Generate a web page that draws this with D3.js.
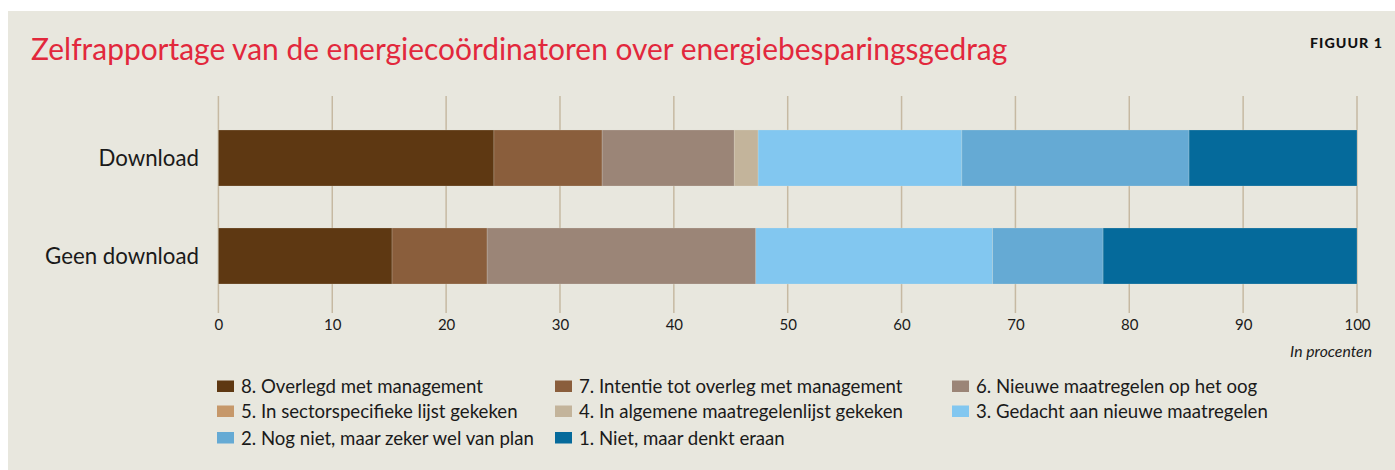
<!DOCTYPE html>
<html>
<head>
<meta charset="utf-8">
<script src="https://cdn.jsdelivr.net/npm/d3@7/dist/d3.min.js"></script>
<style>
  html, body { margin: 0; padding: 0; background: #ffffff; }
  svg { display: block; }
  text { font-family: Lato, "Open Sans", sans-serif; }
</style>
</head>
<body>
<svg id="chart" width="1395" height="470"></svg>
<script>
// ---------- data ----------
const categories = ["Download", "Geen download"];
const seriesNames = [
  "8. Overlegd met management",
  "7. Intentie tot overleg met management",
  "6. Nieuwe maatregelen op het oog",
  "5. In sectorspecifieke lijst gekeken",
  "4. In algemene maatregelenlijst gekeken",
  "3. Gedacht aan nieuwe maatregelen",
  "2. Nog niet, maar zeker wel van plan",
  "1. Niet, maar denkt eraan"
];
const seriesColors = ["#5e3812", "#8a5e3c", "#9b8577", "#c6986a", "#c3b49b", "#82c7f0", "#65aad4", "#056a9b"];
const downloadValues = [24.2, 9.5, 11.6, 0, 2.1, 17.9, 19.95, 14.75];
const geenDownloadValues = [15.25, 8.35, 23.6, 0, 0, 20.8, 9.7, 22.3];
const tickValues = [0, 10, 20, 30, 40, 50, 60, 70, 80, 90, 100];
const titleText = "Zelfrapportage van de energiecoördinatoren over energiebesparingsgedrag";
const figureLabel = "FIGUUR 1";
const unitLabel = "In procenten";

// ---------- layout ----------
const svg = d3.select("#chart");
const bg = "#e8e7de";
const gridColor = "#c6b9a2";

svg.append("rect").attr("x", 8).attr("y", 11).attr("width", 1395 - 8).attr("height", 470 - 11).attr("fill", bg);

function fitWidth(sel, target) {
  const w = sel.node().getComputedTextLength();
  const fs = parseFloat(sel.attr("font-size"));
  sel.attr("font-size", fs * target / w);
  return fs * target / w;
}

// title
const title = svg.append("text")
  .attr("x", 31).attr("y", 60)
  .attr("font-size", 28).attr("fill", "#e2283c")
  .text(titleText);
fitWidth(title, 977);

const fig = svg.append("text")
  .attr("x", 1383).attr("y", 48)
  .attr("text-anchor", "end")
  .attr("font-size", 14).attr("font-weight", 900)
  .attr("letter-spacing", 1)
  .attr("fill", "#111")
  .text(figureLabel);
fig.attr("textLength", 73).attr("lengthAdjust", "spacingAndGlyphs");

// scales
const x = d3.scaleLinear().domain([0, 100]).range([218.4, 1357]);
const y = d3.scaleBand().domain(categories).range([109, 305]).paddingInner(0.42857).paddingOuter(0.2143);

// gridlines
const grid = svg.append("g");
grid.selectAll("line").data(tickValues).join("line")
  .attr("x1", d => x(d)).attr("x2", d => x(d))
  .attr("y1", 96).attr("y2", 313)
  .attr("stroke", gridColor).attr("stroke-width", 1.5);

// stacked data
const rows = categories.map((c, i) => {
  const vals = i === 0 ? downloadValues : geenDownloadValues;
  const o = { category: c };
  seriesNames.forEach((s, j) => o[s] = vals[j]);
  return o;
});
const stack = d3.stack().keys(seriesNames)(rows);

const bars = svg.append("g");
bars.selectAll("g").data(stack).join("g")
  .attr("fill", (d, i) => seriesColors[i])
  .selectAll("rect").data(d => d.filter(p => p[1] - p[0] > 0)).join("rect")
  .attr("x", d => x(d[0]))
  .attr("width", d => x(d[1]) - x(d[0]))
  .attr("y", d => y(d.data.category))
  .attr("height", y.bandwidth())
  .attr("stroke", "#e8e7de").attr("stroke-opacity", 0.35).attr("stroke-width", 0.6);

// category labels
const catG = svg.append("g");
const catLabels = catG.selectAll("text").data(categories).join("text")
  .attr("x", 199)
  .attr("y", d => y(d) + y.bandwidth() / 2)
  .attr("dy", "0.35em")
  .attr("text-anchor", "end")
  .attr("font-size", 21).attr("fill", "#1a1a1a")
  .text(d => d);
const catFs = fitWidth(d3.select(catLabels.nodes()[1]), 154);
catLabels.attr("font-size", catFs);

// x axis (tick labels only)
const axis = d3.axisBottom(x).tickValues(tickValues).tickSize(0).tickPadding(0).tickFormat(d3.format("d"));
const axG = svg.append("g").attr("transform", "translate(0,313)").call(axis);
axG.select(".domain").remove();
axG.selectAll("text")
  .attr("y", 12).attr("dy", "0.35em")
  .attr("font-size", 15).attr("fill", "#1a1a1a")
  .style("font-family", "Lato, sans-serif");

const unit = svg.append("text")
  .attr("x", 1372).attr("y", 351).attr("dy", "0.35em")
  .attr("text-anchor", "end")
  .attr("font-size", 14).attr("font-style", "italic").attr("fill", "#1a1a1a")
  .text(unitLabel);
fitWidth(unit, 82);

// legend
const legendCols = [217, 555, 952];
const legendRows = [386.5, 411.5, 438];
const legend = svg.append("g");
const items = legend.selectAll("g").data(seriesNames).join("g")
  .attr("transform", (d, i) => `translate(${legendCols[i % 3]},${legendRows[Math.floor(i / 3)]})`);
items.append("rect")
  .attr("x", 0).attr("y", -6).attr("width", 17).attr("height", 11.5)
  .attr("fill", (d, i) => seriesColors[i]);
const legTexts = items.append("text")
  .attr("x", 24).attr("y", 0).attr("dy", "0.35em")
  .attr("font-size", 17).attr("fill", "#1a1a1a")
  .text(d => d);
const legFs = fitWidth(d3.select(legTexts.nodes()[0]), 242);
legTexts.attr("font-size", legFs);
</script>
</body>
</html>
